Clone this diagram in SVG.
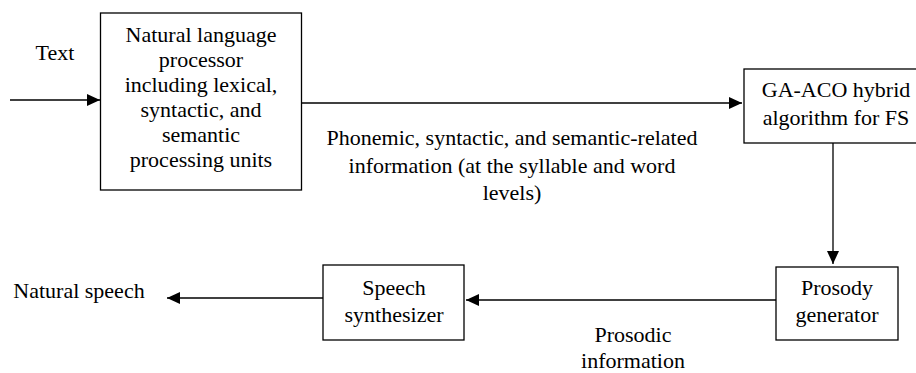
<svg xmlns="http://www.w3.org/2000/svg" width="916" height="373" viewBox="0 0 916 373">
<defs>
<style>
.t{font-family:'Liberation Serif','DejaVu Serif',serif;font-size:22px;fill:#000;text-anchor:middle}
.box{fill:#fff;stroke:#000;stroke-width:1.3}
.edge{fill:none;stroke:#000;stroke-width:1.3}
</style>
<marker id="ah" markerWidth="14" markerHeight="12" refX="13" refY="6" orient="auto" markerUnits="userSpaceOnUse">
<path d="M0,0 L13,6 L0,12 Z" fill="#000"/>
</marker>
</defs>
<rect width="916" height="373" fill="#fff"/>
<g id="connectors">
<line class="edge" x1="10" y1="100" x2="100" y2="100" marker-end="url(#ah)"/>
<line class="edge" x1="302" y1="103" x2="742" y2="103" marker-end="url(#ah)"/>
<line class="edge" x1="833" y1="143" x2="833" y2="264" marker-end="url(#ah)"/>
<line class="edge" x1="776" y1="300" x2="466" y2="300" marker-end="url(#ah)"/>
<line class="edge" x1="323" y1="298" x2="167" y2="298" marker-end="url(#ah)"/>
</g>
<g id="input-label" class="t"><text x="55" y="60">Text</text></g>
<g id="nlp" class="t">
<rect class="box" x="100.5" y="13" width="201" height="177"/>
<text x="201" y="42">Natural language</text>
<text x="201" y="67">processor</text>
<text x="201" y="92">including lexical,</text>
<text x="201" y="117">syntactic, and</text>
<text x="201" y="142">semantic</text>
<text x="201" y="167">processing units</text>
</g>
<g id="mid-label" class="t">
<text x="512" y="145">Phonemic, syntactic, and semantic-related</text>
<text x="512" y="173">information (at the syllable and word</text>
<text x="512" y="200">levels)</text>
</g>
<g id="ga-aco" class="t">
<rect class="box" x="744" y="69" width="184" height="74"/>
<text x="836" y="97">GA-ACO hybrid</text>
<text x="836" y="125">algorithm for FS</text>
</g>
<g id="prosody" class="t">
<rect class="box" x="776" y="267" width="122" height="73"/>
<text x="837" y="295">Prosody</text>
<text x="837" y="322">generator</text>
</g>
<g id="prosodic-label" class="t">
<text x="633" y="342">Prosodic</text>
<text x="633" y="368">information</text>
</g>
<g id="synth" class="t">
<rect class="box" x="323" y="265" width="141" height="75"/>
<text x="394" y="295">Speech</text>
<text x="394" y="322">synthesizer</text>
</g>
<g id="output-label" class="t"><text x="79" y="298">Natural speech</text></g>
</svg>
